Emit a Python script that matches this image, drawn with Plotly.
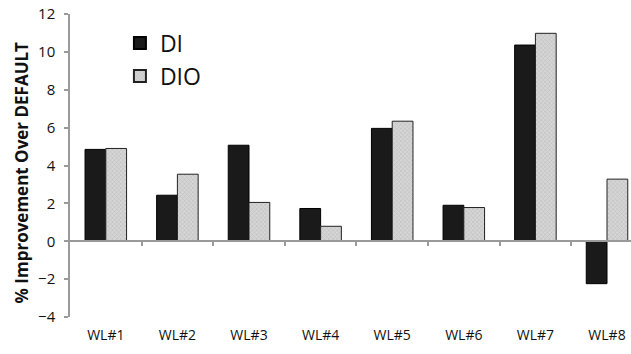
import plotly.graph_objects as go

categories = ["WL#1", "WL#2", "WL#3", "WL#4", "WL#5", "WL#6", "WL#7", "WL#8"]
di_values = [4.85, 2.43, 5.07, 1.73, 5.96, 1.90, 10.36, -2.24]
dio_values = [4.90, 3.54, 2.05, 0.79, 6.34, 1.78, 10.98, 3.28]
y_ticks = [-4, -2, 0, 2, 4, 6, 8, 10, 12]

FONT = "Open Sans"
x_idx = list(range(len(categories)))

fig = go.Figure()
fig.add_trace(go.Bar(
    x=x_idx, y=di_values, name="DI",
    marker=dict(color="#1a1a1a", line=dict(color="#000000", width=1)),
))
fig.add_trace(go.Bar(
    x=x_idx, y=dio_values, name="DIO",
    marker=dict(color="#cfcfcf", line=dict(color="#222222", width=1),
                pattern=dict(shape="x", size=3, solidity=0.3, fgcolor="#9a9a9a", bgcolor="#d6d6d6")),
))
# helper trace for the zero-line axis with boundary ticks
fig.add_trace(go.Scatter(x=[], y=[], xaxis="x2", showlegend=False, hoverinfo="skip"))

xr = [-0.5, 7.335]
ymin, ymax = -4, 12
fig.update_layout(
    width=631, height=354,
    margin=dict(l=70, r=0, t=14, b=37, autoexpand=False),
    paper_bgcolor="white", plot_bgcolor="white",
    barmode="group", bargap=0.42, bargroupgap=0,
    font=dict(family=FONT, color="#222222"),
    xaxis=dict(
        type="linear", range=xr, tickmode="array", tickvals=x_idx, ticktext=categories,
        showgrid=False, zeroline=False, showline=False, ticks="", automargin=False,
        tickfont=dict(size=14, color="#111111"), ticklabelstandoff=8,
    ),
    xaxis2=dict(
        type="linear", range=xr, overlaying="x", anchor="free",
        position=(0 - ymin) / (ymax - ymin), automargin=False,
        tickmode="array", tickvals=[i + 0.5 for i in x_idx], showticklabels=False,
        showline=True, linecolor="#9a9a9a", linewidth=1.5,
        ticks="outside", ticklen=4, tickcolor="#9a9a9a", tickwidth=1.5,
        showgrid=False, zeroline=False,
    ),
    yaxis=dict(
        range=[ymin, ymax], tickmode="array", tickvals=y_ticks, automargin=False,
        showgrid=False, zeroline=False, showline=True, linecolor="#9a9a9a", linewidth=1.5,
        ticks="outside", ticklen=4, tickcolor="#9a9a9a", tickwidth=1.5,
        tickfont=dict(size=15, color="#111111"), ticklabelstandoff=6,
    ),
    legend=dict(
        x=0.089, y=0.975, xanchor="left", yanchor="top",
        font=dict(size=23, color="#111111"), bgcolor="rgba(0,0,0,0)",
        itemsizing="constant", tracegroupgap=0,
    ),
    annotations=[dict(
        text="<b>% Improvement Over DEFAULT</b>", textangle=-90,
        xref="paper", yref="paper", x=(21 - 70) / 561, y=0.474,
        xanchor="center", yanchor="middle", showarrow=False,
        font=dict(size=17, color="#111111", family=FONT),
    )],
)

fig.write_html("out.html", config={"displayModeBar": False},
               post_script="document.body.style.margin='0px';")
